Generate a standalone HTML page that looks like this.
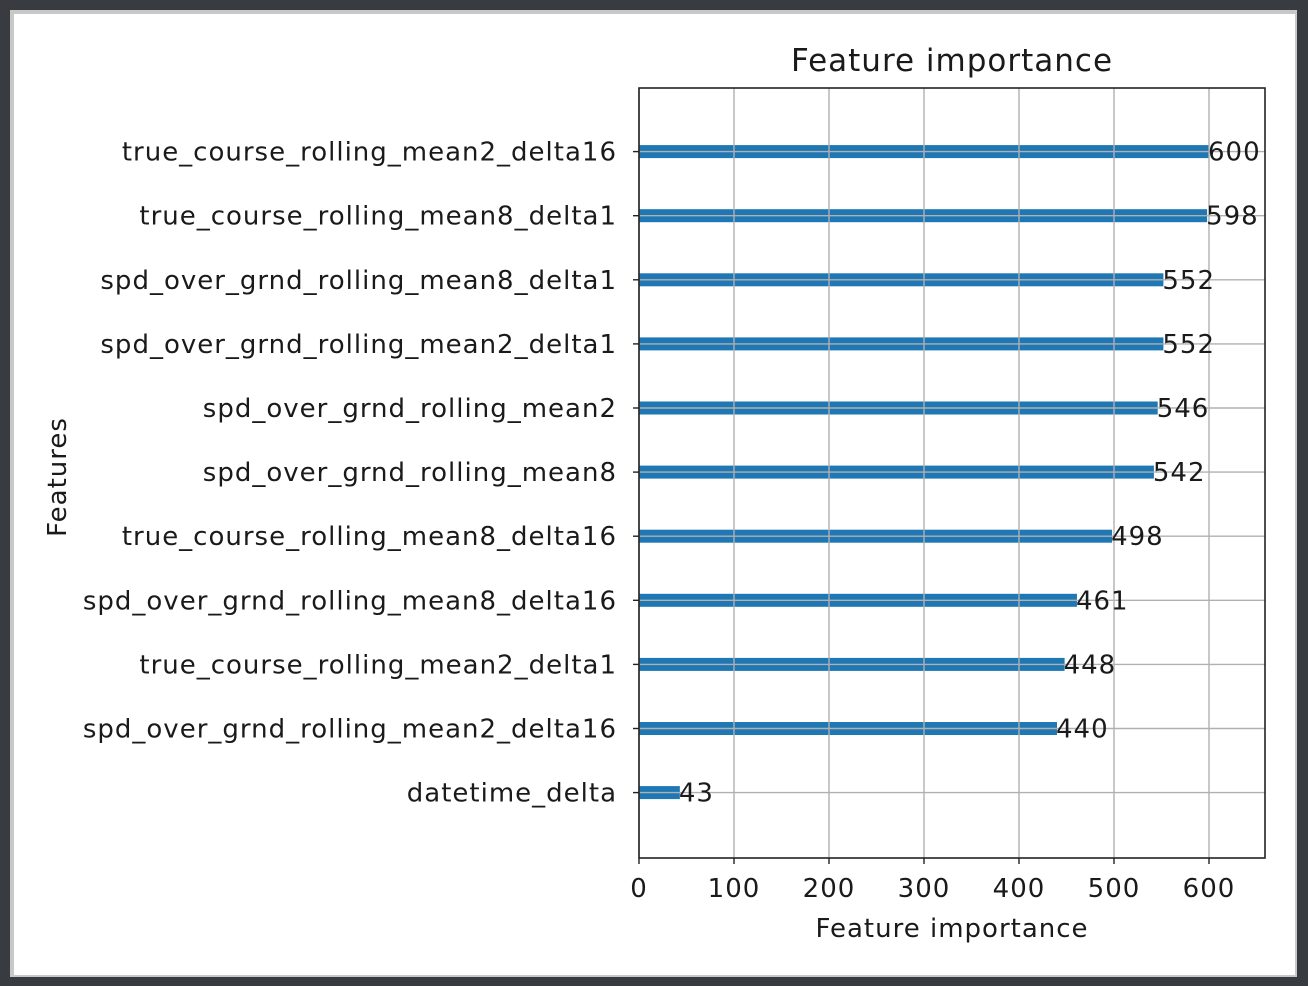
<!DOCTYPE html>
<html><head><meta charset="utf-8"><style>
html,body{margin:0;padding:0;background:#383c40;}
#frame{position:absolute;left:10px;top:10px;width:1287px;height:967px;background:#c8c8c8;}
#inner{position:absolute;left:14px;top:14px;width:1281px;height:961px;background:#fff;}
svg{position:absolute;left:0;top:0;}
text{font-family:"DejaVu Sans","Liberation Sans",sans-serif;fill:#1a1a1a;letter-spacing:1px;}
</style></head><body>
<div id="frame"></div>
<div id="inner"></div>
<svg id="chart" width="1308" height="986"></svg>
<script>
const features=["true_course_rolling_mean2_delta16","true_course_rolling_mean8_delta1","spd_over_grnd_rolling_mean8_delta1","spd_over_grnd_rolling_mean2_delta1","spd_over_grnd_rolling_mean2","spd_over_grnd_rolling_mean8","true_course_rolling_mean8_delta16","spd_over_grnd_rolling_mean8_delta16","true_course_rolling_mean2_delta1","spd_over_grnd_rolling_mean2_delta16","datetime_delta"];
const importance=[600,598,552,552,546,542,498,461,448,440,43];
const xTicks=[0,100,200,300,400,500,600];
const NS="http://www.w3.org/2000/svg";
const svg=document.getElementById('chart');
const L=639,R=1265,T=88,B=858;
const x=v=>L+v*0.95;
function el(tag,attrs,txt){const e=document.createElementNS(NS,tag);for(const k in attrs)e.setAttribute(k,attrs[k]);if(txt!==undefined)e.textContent=txt;svg.appendChild(e);return e;}
features.forEach((f,i)=>{
  const cy=T+64.1*(i+1)-0.5;
  const b=el('rect',{x:L,y:cy-6.5,width:x(importance[i])-L,height:13,fill:'#1f77b4'});
  
  
});
xTicks.forEach(t=>{
  const g=el('line',{x1:x(t),x2:x(t),y1:T,y2:B,stroke:'#b0b0b0','stroke-width':1.4});
  
  
});
features.forEach((f,i)=>{
  const cy=T+64.1*(i+1)-0.5;
  const g=el('line',{x1:L,x2:R,y1:cy,y2:cy,stroke:'#b0b0b0','stroke-width':1.4});
  
  
  const lab=el('text',{x:617,y:cy+9,'font-size':26,'text-anchor':'end'},f);
  
  
  const tk=el('line',{x1:L-6,x2:L,y1:cy,y2:cy,stroke:'#222','stroke-width':1.4});
  
  
  const v=el('text',{x:x(importance[i])-1,y:cy+9,'font-size':26},String(importance[i]));
  
  
});
xTicks.forEach(t=>{
  const tk=el('line',{x1:x(t),x2:x(t),y1:B,y2:B+6,stroke:'#222','stroke-width':1.4});
  
  
  const lab=el('text',{x:x(t),y:897,'font-size':26,'text-anchor':'middle'},String(t));
  
  
});
const ax=el('rect',{x:L,y:T,width:R-L,height:B-T,fill:'none',stroke:'#222','stroke-width':1.6});


const tt=el('text',{x:(L+R)/2,y:71,'font-size':31,'text-anchor':'middle'},'Feature importance');


const xt=el('text',{x:(L+R)/2,y:937,'font-size':26,'text-anchor':'middle'},'Feature importance');


const yt=el('text',{x:0,y:0,'font-size':26,'text-anchor':'middle',transform:'translate(66,477) rotate(-90)'},'Features');


</script>
</body></html>
